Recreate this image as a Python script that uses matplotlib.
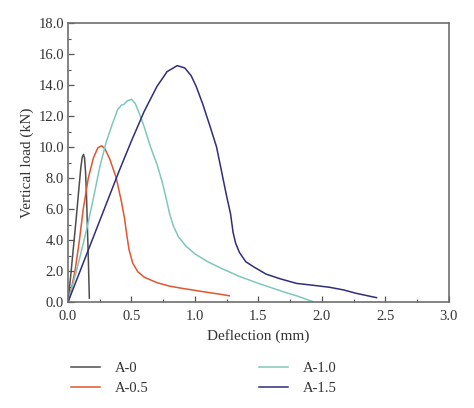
import matplotlib
matplotlib.use('Agg')
import matplotlib.pyplot as plt
import matplotlib.ticker as ticker

# ========== Data ==========
a0_x = [0.0, 0.02, 0.04, 0.06, 0.08, 0.10, 0.112, 0.122, 0.13, 0.138, 0.145, 0.15, 0.155, 0.16, 0.164, 0.168]
a0_y = [0.0, 1.6, 3.3, 5.0, 6.8, 8.6, 9.35, 9.52, 9.3, 8.4, 7.0, 5.6, 4.2, 2.8, 1.5, 0.25]

a05_x = [0.0, 0.03, 0.055, 0.09, 0.12, 0.16, 0.20, 0.235, 0.265, 0.29, 0.33, 0.38, 0.42, 0.445, 0.46,
         0.48, 0.51, 0.55, 0.60, 0.70, 0.80, 0.90, 1.00, 1.10, 1.20, 1.27]
a05_y = [0.0, 1.0, 2.0, 4.0, 6.0, 8.0, 9.3, 9.95, 10.08, 9.9, 9.2, 8.0, 6.5, 5.4, 4.5,
         3.4, 2.5, 1.95, 1.6, 1.25, 1.02, 0.88, 0.75, 0.62, 0.50, 0.40]

a10_x = [0.0, 0.05, 0.10, 0.15, 0.20, 0.25, 0.30, 0.35, 0.39, 0.42, 0.44, 0.47, 0.50, 0.53, 0.56,
         0.60, 0.65, 0.70, 0.74, 0.77, 0.80, 0.83, 0.87, 0.93, 1.00, 1.10, 1.20, 1.35, 1.50, 1.70,
         1.80, 1.93]
a10_y = [0.0, 1.5, 3.1, 4.8, 6.7, 8.7, 10.3, 11.5, 12.4, 12.7, 12.75, 13.0, 13.07, 12.8, 12.2,
         11.3, 10.0, 8.9, 7.8, 6.8, 5.7, 4.9, 4.2, 3.6, 3.1, 2.6, 2.2, 1.65, 1.2, 0.65,
         0.4, 0.02]

a15_x = [0.0, 0.10, 0.20, 0.30, 0.40, 0.50, 0.60, 0.70, 0.78, 0.86, 0.92, 0.97, 1.01, 1.06, 1.12,
         1.17, 1.21, 1.25, 1.28, 1.30, 1.32, 1.35, 1.40, 1.46, 1.56, 1.67, 1.80, 1.93, 2.06, 2.17,
         2.27, 2.43]
a15_y = [0.0, 2.1, 4.2, 6.3, 8.4, 10.4, 12.3, 13.9, 14.86, 15.25, 15.1, 14.6, 13.9, 12.8, 11.3,
         10.0, 8.4, 6.8, 5.7, 4.5, 3.8, 3.2, 2.6, 2.28, 1.8, 1.5, 1.2, 1.08, 0.95, 0.78,
         0.56, 0.28]

labels = ['A-0', 'A-0.5', 'A-1.0', 'A-1.5']
colors = ['#4d4d4d', '#e2552f', '#80c7bb', '#2f2d7e']

plt.rcParams.update({
    'font.family': ['Liberation Serif', 'DejaVu Serif'],
    'font.size': 10,
    'axes.edgecolor': '#6e6e6e',
    'axes.linewidth': 1.2,
    'xtick.color': '#555555',
    'ytick.color': '#555555',
    'xtick.labelcolor': '#333333',
    'ytick.labelcolor': '#333333',
})

fig = plt.figure(figsize=(4.74, 4.08), dpi=100)
ax = fig.add_axes([0.1435, 0.2598, 0.8035, 0.6838])

series = [(a0_x, a0_y), (a05_x, a05_y), (a10_x, a10_y), (a15_x, a15_y)]
for (x, y), lab, c in zip(series, labels, colors):
    ax.plot(x, y, color=c, lw=1.1, label=lab)

ax.set_xlim(0, 3.0)
ax.set_ylim(0, 18.0)
ax.xaxis.set_major_locator(ticker.MultipleLocator(0.5))
ax.xaxis.set_minor_locator(ticker.MultipleLocator(0.25))
ax.yaxis.set_major_locator(ticker.MultipleLocator(2.0))
ax.yaxis.set_minor_locator(ticker.MultipleLocator(1.0))
ax.xaxis.set_major_formatter(ticker.FormatStrFormatter('%.1f'))
ax.yaxis.set_major_formatter(ticker.FormatStrFormatter('%.1f'))
ax.tick_params(which='both', direction='in', top=False, right=False, labelsize=10.5)
ax.tick_params(which='major', length=4, width=0.9, pad=3)
ax.tick_params(axis='x', which='major', pad=6)
ax.tick_params(which='minor', length=2.5, width=0.8)

ax.set_xlabel('Deflection (mm)', fontsize=11, color='#333333', labelpad=4)
ax.set_ylabel('Vertical load (kN)', fontsize=11, color='#333333', labelpad=3)

fig.legend(loc='upper left', bbox_to_anchor=(0.122, 0.145), ncol=2, frameon=False,
           fontsize=10.5, handlelength=2.0, handletextpad=1.0, columnspacing=7.6,
           labelspacing=0.45, labelcolor='#333333')

fig.savefig('out.png', dpi=100)
